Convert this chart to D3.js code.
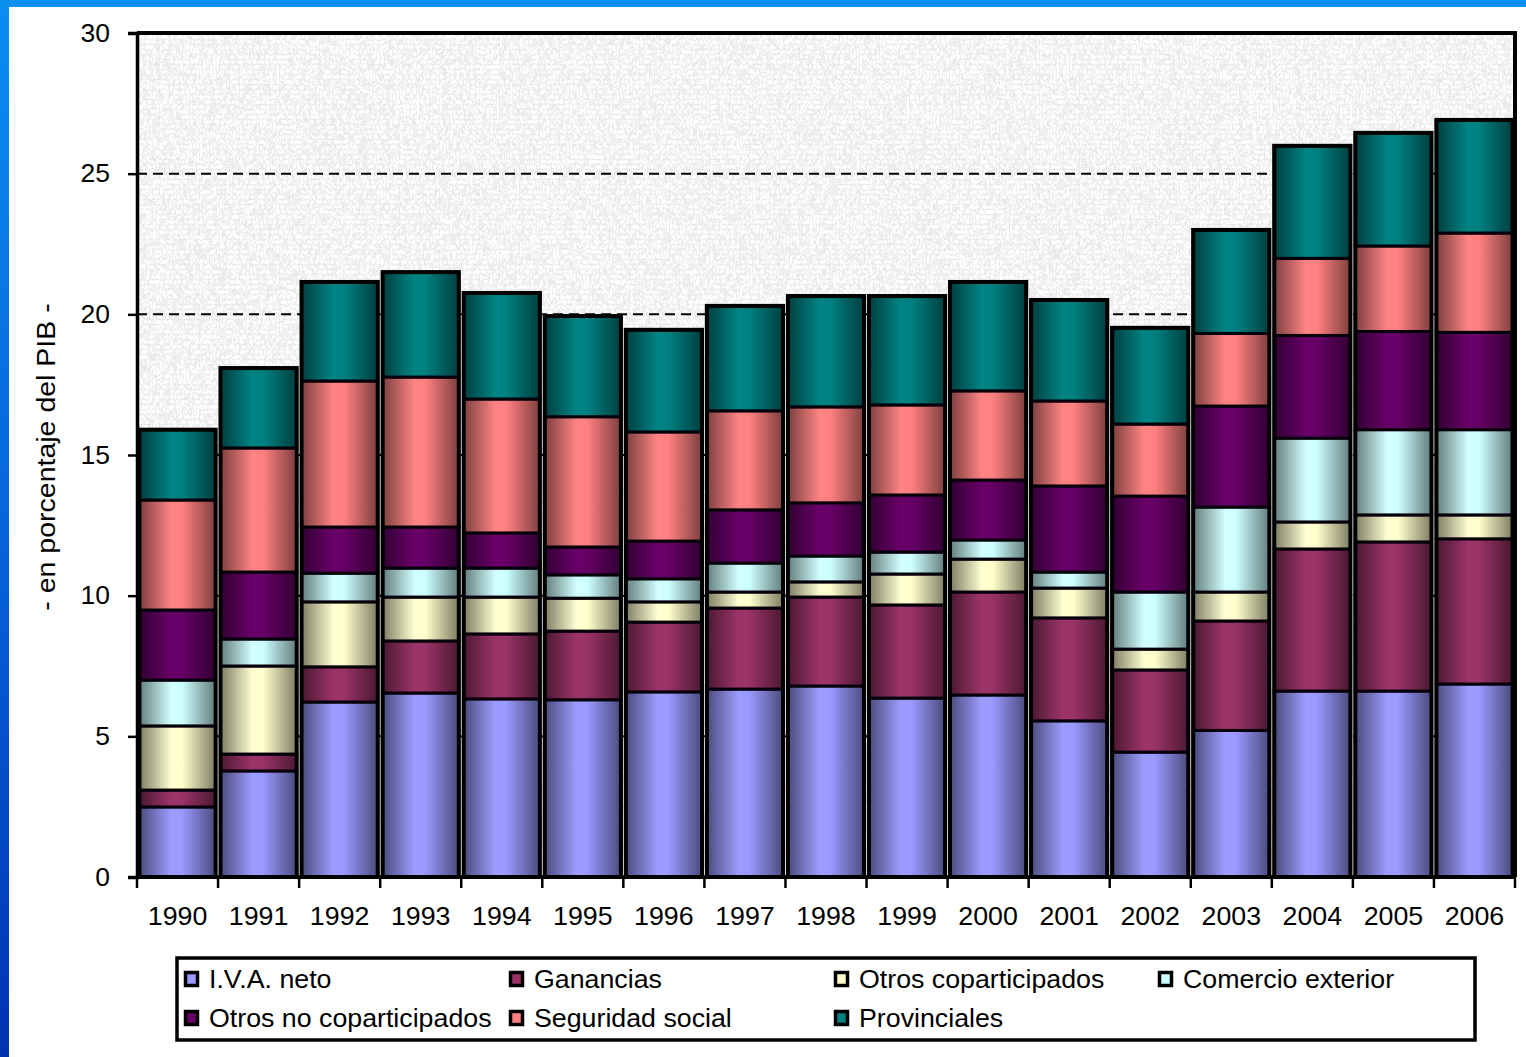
<!DOCTYPE html>
<html>
<head>
<meta charset="utf-8">
<script src="https://cdn.jsdelivr.net/npm/d3@7"></script>
<style>
  html, body { margin: 0; padding: 0; background: #ffffff; }
  svg { display: block; }
  text { font-family: "Liberation Sans", Arial, sans-serif; fill: #000; }
</style>
</head>
<body>
<svg id="chart" width="1526" height="1057"></svg>
<script>
// Recaudación tributaria, en porcentaje del PIB, 1990-2006
const years = ["1990","1991","1992","1993","1994","1995","1996","1997","1998",
               "1999","2000","2001","2002","2003","2004","2005","2006"];

const iva          = [2.49,3.77,6.22,6.54,6.33,6.30,6.58,6.68,6.79,6.36,6.47,5.55,4.44,5.21,6.61,6.61,6.86];
const ganancias    = [0.60,0.60,1.25,1.85,2.31,2.44,2.48,2.88,3.16,3.31,3.66,3.66,2.92,3.89,5.05,5.30,5.16];
const otrosCop     = [2.28,3.13,2.31,1.56,1.31,1.17,0.72,0.57,0.54,1.10,1.17,1.06,0.74,1.03,0.96,0.96,0.85];
const comercioExt  = [1.63,0.96,1.02,1.03,1.03,0.83,0.82,1.03,0.92,0.78,0.68,0.57,2.03,3.02,2.98,3.03,3.03];
const otrosNoCop   = [2.49,2.38,1.64,1.46,1.25,0.99,1.34,1.89,1.89,2.03,2.13,3.06,3.41,3.59,3.65,3.49,3.46];
const seguridad    = [3.91,4.41,5.19,5.33,4.76,4.63,3.88,3.52,3.41,3.20,3.17,3.02,2.56,2.58,2.74,3.04,3.53];
const provinciales = [2.50,2.84,3.52,3.73,3.77,3.58,3.63,3.73,3.94,3.87,3.87,3.59,3.42,3.68,4.00,4.02,4.02];

const seriesNames = ["I.V.A. neto","Ganancias","Otros coparticipados","Comercio exterior",
                     "Otros no coparticipados","Seguridad social","Provinciales"];
const seriesValues = [iva, ganancias, otrosCop, comercioExt, otrosNoCop, seguridad, provinciales];
const seriesColors = ["#9999ff","#993366","#ffffcc","#ccffff","#660066","#ff8080","#008080"];

const yTicks = [0,5,10,15,20,25,30];
const gridTicks = [5,10,15,20,25];
const yTitle = "- en porcentaje del PIB -";

// rows for d3.stack
const rows = years.map((y, i) => {
  const r = { year: y };
  seriesNames.forEach((s, k) => r[s] = seriesValues[k][i]);
  return r;
});

const svg = d3.select("#chart");
const W = 1526, H = 1057;
const plot = { left: 137, right: 1515, top: 33, bottom: 877 };

const defs = svg.append("defs");

// slide frame: blue strips on the left and top edges
const sideGrad = defs.append("linearGradient").attr("id", "sideBlue")
  .attr("x1", 0).attr("y1", 0).attr("x2", 0).attr("y2", 1);
sideGrad.append("stop").attr("offset", "0%").attr("stop-color", "#0a8ef0");
sideGrad.append("stop").attr("offset", "55%").attr("stop-color", "#0660d8");
sideGrad.append("stop").attr("offset", "100%").attr("stop-color", "#0232b0");
svg.append("rect").attr("x", 0).attr("y", 0).attr("width", W).attr("height", H).attr("fill", "#ffffff");
svg.append("rect").attr("x", 0).attr("y", 0).attr("width", 9).attr("height", H).attr("fill", "url(#sideBlue)");
svg.append("rect").attr("x", 0).attr("y", 0).attr("width", W).attr("height", 7).attr("fill", "#0a8ef0");

// grainy gray plot background
const grain = defs.append("filter").attr("id", "grain")
  .attr("x", 0).attr("y", 0).attr("width", "100%").attr("height", "100%");
grain.append("feTurbulence").attr("type", "turbulence")
  .attr("baseFrequency", "0.3 0.2").attr("numOctaves", 3).attr("seed", 11).attr("result", "noise");
grain.append("feColorMatrix").attr("in", "noise").attr("type", "matrix")
  .attr("values", "0.5 0 0 0 0.76  0.5 0 0 0 0.76  0.5 0 0 0 0.76  0 0 0 0 1");
svg.append("rect")
  .attr("x", plot.left).attr("y", plot.top)
  .attr("width", plot.right - plot.left).attr("height", plot.bottom - plot.top)
  .attr("fill", "#e4e4e4")
  .attr("filter", "url(#grain)");

// scales
const x = d3.scaleBand().domain(years).range([plot.left, plot.right])
  .paddingInner(0.06).paddingOuter(0.03);
const y = d3.scaleLinear().domain([0, 30]).range([plot.bottom, plot.top]);

// dashed gridlines
svg.append("g").selectAll("line").data(gridTicks).join("line")
  .attr("x1", plot.left).attr("x2", plot.right)
  .attr("y1", d => y(d)).attr("y2", d => y(d))
  .attr("stroke", "#000").attr("stroke-width", 2)
  .attr("stroke-dasharray", "10,6");

// horizontal shading per series: dark edges, bright centre
seriesColors.forEach((c, k) => {
  const base = d3.rgb(c);
  const g = defs.append("linearGradient").attr("id", "shade" + k)
    .attr("gradientUnits", "objectBoundingBox")
    .attr("x1", "0").attr("y1", "0").attr("x2", "1").attr("y2", "0");
  g.append("stop").attr("offset", "0").attr("stop-color", base.darker(2.0).formatHex());
  g.append("stop").attr("offset", "0.42").attr("stop-color", base.brighter(0.08).formatHex());
  g.append("stop").attr("offset", "0.56").attr("stop-color", base.formatHex());
  g.append("stop").attr("offset", "1").attr("stop-color", base.darker(2.0).formatHex());
});

// stacked bars
const stack = d3.stack().keys(seriesNames);
const layers = stack(rows);

svg.append("g").selectAll("g").data(layers).join("g")
  .selectAll("rect").data((d, k) => d.map(p => ({ p, k }))).join("rect")
  .attr("x", d => x(d.p.data.year))
  .attr("width", x.bandwidth())
  .attr("y", d => y(d.p[1]))
  .attr("height", d => y(d.p[0]) - y(d.p[1]))
  .attr("fill", d => `url(#shade${d.k})`)
  .attr("stroke", "#06000a").attr("stroke-width", 3);

// outer outline of each whole bar
svg.append("g").selectAll("rect").data(layers[layers.length - 1]).join("rect")
  .attr("x", d => x(d.data.year))
  .attr("width", x.bandwidth())
  .attr("y", d => y(d[1]))
  .attr("height", d => y(0) - y(d[1]))
  .attr("fill", "none")
  .attr("stroke", "#000").attr("stroke-width", 4);

// frame: top and right edges of the plot
svg.append("path")
  .attr("d", `M${plot.left},${plot.top}H${plot.right}V${plot.bottom}`)
  .attr("fill", "none").attr("stroke", "#000").attr("stroke-width", 4);

// widen a text node horizontally by a factor
function stretch(sel, f) {
  sel.each(function () {
    const len = this.getComputedTextLength();
    d3.select(this).attr("textLength", len * f).attr("lengthAdjust", "spacingAndGlyphs");
  });
}

// y axis
const yAxis = d3.axisLeft(y).tickValues(yTicks).tickSize(9).tickPadding(18);
const gy = svg.append("g").attr("transform", `translate(${plot.left},0)`).call(yAxis);
gy.select(".domain").attr("stroke", "#000").attr("stroke-width", 3.5);
gy.selectAll(".tick line").attr("stroke", "#000").attr("stroke-width", 2.5);
gy.selectAll(".tick text")
  .attr("font-size", 25).attr("font-family", "Liberation Sans, Arial, sans-serif")
  .attr("fill", "#000")
  .call(stretch, 1.06);

// x axis: ticks fall between the categories
svg.append("line")
  .attr("x1", plot.left).attr("x2", plot.right)
  .attr("y1", plot.bottom).attr("y2", plot.bottom)
  .attr("stroke", "#000").attr("stroke-width", 3.5);
const boundaries = years.map(yr => x(yr) - x.step() * x.paddingInner() / 2);
boundaries.push(plot.right);
svg.append("g").selectAll("line").data(boundaries).join("line")
  .attr("x1", d => d).attr("x2", d => d)
  .attr("y1", plot.bottom).attr("y2", plot.bottom + 11)
  .attr("stroke", "#000").attr("stroke-width", 2.5);
svg.append("g").selectAll("text").data(years).join("text")
  .attr("x", d => x(d) + x.bandwidth() / 2)
  .attr("y", 925)
  .attr("text-anchor", "middle")
  .attr("font-size", 25)
  .text(d => d)
  .call(stretch, 1.07);

// y axis title
svg.append("text")
  .attr("transform", `translate(55,457) rotate(-90)`)
  .attr("text-anchor", "middle")
  .attr("font-size", 25)
  .text(yTitle)
  .call(stretch, 1.14);

// legend
const legend = svg.append("g");
legend.append("rect")
  .attr("x", 177).attr("y", 958).attr("width", 1298).attr("height", 82)
  .attr("fill", "#ffffff").attr("stroke", "#000").attr("stroke-width", 3.5);
const colX = [184, 509, 834, 1158];
const rowY = [979, 1018];
const items = legend.selectAll("g.item").data(seriesNames).join("g")
  .attr("class", "item")
  .attr("transform", (d, i) => `translate(${colX[i % 4]},${rowY[Math.floor(i / 4)]})`);
items.append("rect")
  .attr("x", 1.5).attr("y", -6.5).attr("width", 12).attr("height", 13)
  .attr("fill", (d, i) => seriesColors[i])
  .attr("stroke", "#000").attr("stroke-width", 3.5);
items.append("text")
  .attr("x", 25).attr("y", 9)
  .attr("font-size", 25)
  .text(d => d)
  .call(stretch, 1.07);
</script>
</body>
</html>
